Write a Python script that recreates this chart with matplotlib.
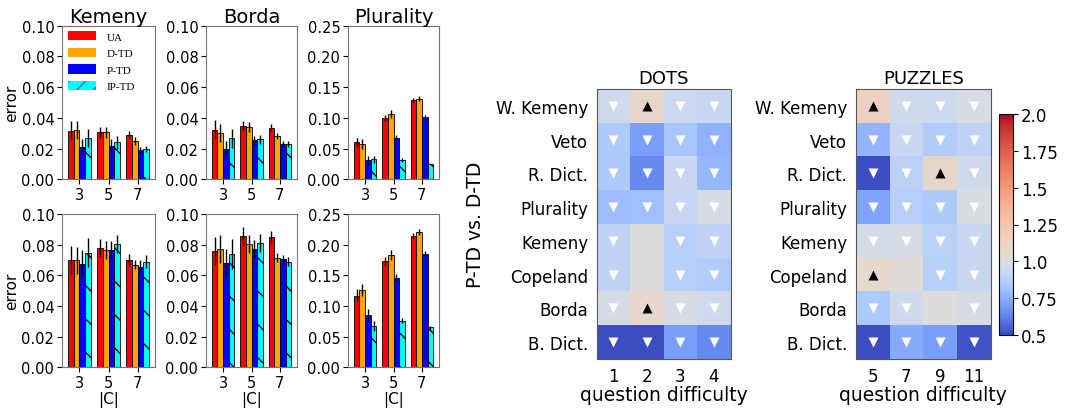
import numpy as np
import matplotlib
matplotlib.use("Agg")
import matplotlib.pyplot as plt
from matplotlib.colors import ListedColormap, Normalize
from matplotlib.patches import Patch

# ---- bar chart data ----
sizes = [3, 5, 7]
methods = ['UA', 'D-TD', 'P-TD', 'IP-TD']
bar_colors = ['red', 'orange', 'blue', 'cyan']

# top row
kemeny_top = [[0.0317, 0.0306, 0.029], [0.032, 0.0306, 0.025],
              [0.021, 0.022, 0.019], [0.027, 0.024, 0.020]]
kemeny_top_ci = [[0.006, 0.0035, 0.0025], [0.006, 0.0035, 0.0025],
                 [0.005, 0.004, 0.002], [0.006, 0.004, 0.002]]
borda_top = [[0.0323, 0.0347, 0.0336], [0.030, 0.034, 0.028],
             [0.020, 0.0254, 0.023], [0.0267, 0.026, 0.023]]
borda_top_ci = [[0.006, 0.003, 0.0025], [0.006, 0.003, 0.002],
                [0.005, 0.003, 0.002], [0.006, 0.003, 0.002]]
plur_top = [[0.060, 0.100, 0.129], [0.0575, 0.106, 0.131],
            [0.031, 0.068, 0.102], [0.0325, 0.031, 0.0255]]
plur_top_ci = [[0.008, 0.005, 0.004], [0.008, 0.006, 0.004],
               [0.007, 0.004, 0.003], [0.006, 0.003, 0.001]]

# bottom row
kemeny_bot = [[0.0699, 0.078, 0.070], [0.0697, 0.0767, 0.0668],
              [0.0677, 0.0767, 0.0657], [0.0747, 0.0806, 0.069]]
kemeny_bot_ci = [[0.009, 0.006, 0.004], [0.009, 0.006, 0.003],
                 [0.009, 0.006, 0.004], [0.0095, 0.006, 0.004]]
borda_bot = [[0.076, 0.0854, 0.0847], [0.077, 0.0806, 0.0714],
             [0.068, 0.077, 0.0705], [0.074, 0.081, 0.0688]]
borda_bot_ci = [[0.009, 0.006, 0.004], [0.009, 0.006, 0.003],
                [0.009, 0.006, 0.003], [0.010, 0.006, 0.003]]
plur_bot = [[0.117, 0.173, 0.214], [0.126, 0.183, 0.221],
            [0.085, 0.146, 0.185], [0.068, 0.076, 0.065]]
plur_bot_ci = [[0.010, 0.007, 0.005], [0.010, 0.008, 0.005],
               [0.010, 0.006, 0.004], [0.008, 0.004, 0.002]]

# ---- heatmap data (P-TD / D-TD) ----
rules = ['W. Kemeny', 'Veto', 'R. Dict.', 'Plurality', 'Kemeny',
         'Copeland', 'Borda', 'B. Dict.']
dots_levels = ['1', '2', '3', '4']
puzzles_levels = ['5', '7', '9', '11']
dots_ratio = [[0.95, 1.10, 0.94, 0.93],
              [0.85, 0.70, 0.83, 0.76],
              [0.85, 0.65, 0.93, 0.78],
              [0.80, 0.81, 0.92, 0.98],
              [0.90, 1.00, 0.88, 0.90],
              [0.90, 1.00, 0.88, 0.86],
              [0.97, 1.07, 0.98, 0.95],
              [0.51, 0.51, 0.70, 0.65]]
dots_sign = [['v', '^', 'v', 'v'],
             ['v', 'v', 'v', 'v'],
             ['v', 'v', 'v', 'v'],
             ['v', 'v', 'v', 'v'],
             ['v', '', 'v', 'v'],
             ['v', '', 'v', 'v'],
             ['v', '^', 'v', 'v'],
             ['v', 'v', 'v', 'v']]
puzzles_ratio = [[1.15, 0.95, 0.94, 0.98],
                 [0.77, 0.93, 0.86, 0.90],
                 [0.51, 0.89, 1.10, 0.95],
                 [0.72, 0.87, 0.85, 0.99],
                 [0.97, 0.97, 0.89, 0.93],
                 [1.07, 1.03, 0.88, 0.93],
                 [0.85, 0.95, 1.00, 0.97],
                 [0.51, 0.74, 0.70, 0.52]]
puzzles_sign = [['^', 'v', 'v', 'v'],
                ['v', 'v', 'v', 'v'],
                ['v', 'v', '^', 'v'],
                ['v', 'v', 'v', 'v'],
                ['v', 'v', 'v', 'v'],
                ['^', '', 'v', 'v'],
                ['v', 'v', '', 'v'],
                ['v', 'v', 'v', 'v']]

W, H = 1067, 410
fig = plt.figure(figsize=(W / 100, H / 100), dpi=100)


def px(l, t, r, b):
    return [l / W, 1 - b / H, (r - l) / W, (b - t) / H]


def bar_panel(ax, means, cis, ymax, yticks, title=None, xlabel=False, ylabel=False):
    x = np.arange(len(sizes))
    for i in range(4):
        ax.bar(x + (i - 1.5) * 0.2, means[i], 0.2, yerr=cis[i],
               color=bar_colors[i], edgecolor='black', linewidth=0.6,
               hatch='\\' if i == 3 else None,
               error_kw=dict(ecolor='black', elinewidth=1, capsize=0))
    ax.set_xlim(-0.6, 2.6)
    ax.set_ylim(0, ymax)
    ax.set_xticks(x)
    ax.set_xticklabels([str(s) for s in sizes])
    ax.set_yticks(yticks)
    ax.set_yticklabels(['%.2f' % t for t in yticks])
    ax.tick_params(labelsize=10.5, length=3.5, pad=2)
    for s in ax.spines.values():
        s.set_color('0.45')
    if title:
        ax.set_title(title, fontsize=14, pad=3)
    if xlabel:
        ax.set_xlabel('|C|', fontsize=11, labelpad=1)
    if ylabel:
        ax.set_ylabel('error', fontsize=11, labelpad=2)


t10 = [0, 0.02, 0.04, 0.06, 0.08, 0.10]
t25 = [0, 0.05, 0.10, 0.15, 0.20, 0.25]
cols = [(62, 155), (206, 297), (348, 439)]
top = (26.7, 180.3)
bot = (215, 368.3)

ax = fig.add_axes(px(cols[0][0], top[0], cols[0][1], top[1]))
bar_panel(ax, kemeny_top, kemeny_top_ci, 0.10, t10, 'Kemeny', ylabel=True)
handles = [Patch(facecolor=c, edgecolor=c, linewidth=0) for c in bar_colors[:3]]
handles.append(Patch(facecolor='cyan', edgecolor='#0a7d8c', linewidth=0, hatch='//'))
ax.legend(handles, methods, loc='upper left', frameon=False,
          prop={'family': 'Liberation Serif', 'size': 8},
          handlelength=2.6, handleheight=0.9, labelspacing=0.55,
          borderaxespad=0.2, borderpad=0.3, handletextpad=0.9)
ax = fig.add_axes(px(cols[1][0], top[0], cols[1][1], top[1]))
bar_panel(ax, borda_top, borda_top_ci, 0.10, t10, 'Borda')
ax = fig.add_axes(px(cols[2][0], top[0], cols[2][1], top[1]))
bar_panel(ax, plur_top, plur_top_ci, 0.25, t25, 'Plurality')

ax = fig.add_axes(px(cols[0][0], bot[0], cols[0][1], bot[1]))
bar_panel(ax, kemeny_bot, kemeny_bot_ci, 0.10, t10, xlabel=True, ylabel=True)
ax = fig.add_axes(px(cols[1][0], bot[0], cols[1][1], bot[1]))
bar_panel(ax, borda_bot, borda_bot_ci, 0.10, t10, xlabel=True)
ax = fig.add_axes(px(cols[2][0], bot[0], cols[2][1], bot[1]))
bar_panel(ax, plur_bot, plur_bot_ci, 0.25, t25, xlabel=True)

# colormap: coolwarm centred on 1.0 over a linear 0.5..2.0 scale
vals = np.linspace(0.5, 2.0, 256)
pos = np.where(vals < 1, (vals - 0.5), 0.5 + (vals - 1) * 0.5)
cmap = ListedColormap(plt.get_cmap('coolwarm')(pos))
norm = Normalize(0.5, 2.0)


def heat_panel(ax, ratio, sign, levels, title, ylabel=False):
    data = np.array(ratio)
    im = ax.imshow(data, cmap=cmap, norm=norm, aspect='auto')
    for r in range(data.shape[0]):
        for c in range(data.shape[1]):
            if sign[r][c] == 'v':
                ax.plot(c, r, marker='v', color='white', ms=6.5, mec='none')
            elif sign[r][c] == '^':
                ax.plot(c, r, marker='^', color='black', ms=6.5, mec='none')
    ax.set_xticks(range(len(levels)))
    ax.set_xticklabels(levels)
    ax.set_yticks(range(len(rules)))
    ax.set_yticklabels(rules)
    ax.tick_params(length=0, labelsize=12, pad=6)
    ax.set_xlabel('question difficulty', fontsize=13.5, labelpad=0)
    ax.set_title(title, fontsize=13, pad=4)
    for s in ax.spines.values():
        s.set_color('0.35')
    if ylabel:
        ax.set_ylabel('P-TD vs. D-TD', fontsize=13.5, labelpad=8)
    return im


ax = fig.add_axes(px(596.7, 90, 730.7, 360))
heat_panel(ax, dots_ratio, dots_sign, dots_levels, 'DOTS', ylabel=True)
ax = fig.add_axes(px(855.7, 90, 990.7, 360))
im = heat_panel(ax, puzzles_ratio, puzzles_sign, puzzles_levels, 'PUZZLES')

cax = fig.add_axes(px(999.3, 115, 1013.3, 336))
cb = fig.colorbar(im, cax=cax)
cb_ticks = [0.5, 0.75, 1.0, 1.25, 1.5, 1.75, 2.0]
cb.set_ticks(cb_ticks)
cb.set_ticklabels(['0.5', '0.75', '1.0', '1.25', '1.5', '1.75', '2.0'])
cb.ax.tick_params(labelsize=12, length=3.5, pad=2)
cb.outline.set_linewidth(0.8)

fig.savefig('out.png', dpi=100)
